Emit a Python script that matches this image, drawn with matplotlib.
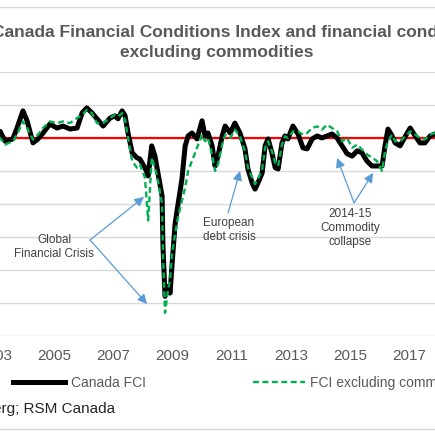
import matplotlib.pyplot as plt
from matplotlib.lines import Line2D

plt.rcParams['font.family'] = ['Liberation Sans', 'DejaVu Sans']

# dates as decimal years
dates = [2003.0, 2003.18, 2003.35, 2003.61, 2003.75, 2003.95, 2004.09, 2004.29, 2004.46, 2004.63,
         2004.86, 2005.1, 2005.3, 2005.54, 2005.78, 2005.95, 2006.11, 2006.28, 2006.45, 2006.66,
         2006.89, 2007.06, 2007.16, 2007.3, 2007.4, 2007.5, 2007.64, 2007.8, 2007.9, 2008.07,
         2008.18, 2008.3, 2008.41, 2008.51, 2008.65, 2008.68, 2008.75, 2008.85, 2008.92, 2008.99,
         2009.09, 2009.19, 2009.32, 2009.43, 2009.53, 2009.66, 2009.83, 2010.0, 2010.1, 2010.2,
         2010.34, 2010.44, 2010.54, 2010.68, 2010.78, 2010.95, 2011.11, 2011.28, 2011.45, 2011.55,
         2011.69, 2011.79, 2011.89, 2012.03, 2012.13, 2012.23, 2012.36, 2012.47, 2012.57, 2012.7,
         2012.8, 2012.9, 2013.07, 2013.24, 2013.41, 2013.55, 2013.72, 2013.89, 2014.05, 2014.22,
         2014.39, 2014.56, 2014.73, 2014.9, 2015.07, 2015.24, 2015.4, 2015.57, 2015.74, 2015.91,
         2016.08, 2016.18, 2016.28, 2016.42, 2016.52, 2016.69, 2016.93, 2017.03, 2017.2, 2017.36,
         2017.53, 2017.7, 2017.87, 2018.04]

canada_fci = [0.06, 0.2, -0.1, -0.03, 0.3, 0.82, 0.52, -0.15, -0.03, 0.15,
              0.42, 0.3, 0.36, 0.27, 0.3, 0.76, 0.91, 0.76, 0.58, 0.36,
              0.6, 0.67, 0.58, 0.82, 0.67, 0.15, -0.45, -0.6, -0.64, -0.9,
              -1.15, -0.24, -0.55, -1.06, -1.76, -3.27, -4.8, -4.5, -4.7, -3.8,
              -2.6, -2.0, -1.25, -0.24, 0.06, 0.15, -0.03, 0.52, 0.06, 0.15,
              -0.24, -0.85, -0.55, 0.06, 0.36, 0.15, 0.45, 0.15, -0.33, -0.94,
              -1.36, -1.55, -1.36, -1.06, -0.24, -0.03, -0.45, -0.9, -0.94, -0.15,
              0.06, -0.03, 0.36, 0.12, -0.3, -0.33, -0.03, 0.06, 0.0, 0.06,
              0.12, 0.0, -0.24, -0.48, -0.55, -0.39, -0.45, -0.7, -0.85, -0.85,
              -0.85, -0.24, 0.27, 0.06, -0.15, -0.24, 0.15, 0.3, 0.06, -0.15,
              -0.15, 0.06, 0.12, 0.2]

fci_ex_comm = [-0.1, 0.0, -0.2, -0.1, 0.1, 0.5, 0.3, -0.05, 0.1, 0.3,
               0.5, 0.45, 0.5, 0.45, 0.6, 0.7, 0.85, 0.75, 0.45, 0.45,
               0.6, 0.7, 0.65, 0.75, 0.55, 0.0, -0.7, -0.9, -0.8, -1.2,
               -2.5, -0.6, -0.9, -1.3, -2.0, -3.5, -5.3, -4.6, -4.3, -3.5,
               -2.9, -2.4, -1.9, -1.5, -1.0, -0.7, -0.3, 0.1, -0.1, 0.0,
               -0.5, -1.0, -0.8, -0.2, 0.1, 0.0, 0.25, 0.05, -0.4, -0.9,
               -1.2, -1.4, -1.25, -0.95, -0.3, -0.1, -0.4, -0.75, -0.85, -0.2,
               0.05, 0.0, 0.2, 0.2, 0.1, 0.15, 0.3, 0.35, 0.25, 0.4,
               0.3, 0.2, -0.1, 0.0, -0.3, -0.2, -0.35, -0.5, -0.6, -0.7,
               -1.0, -0.4, -0.1, 0.1, -0.1, -0.1, 0.1, 0.2, 0.1, 0.0,
               -0.05, 0.1, 0.15, 0.2]

year_ticks = [2001, 2003, 2005, 2007, 2009, 2011, 2013, 2015, 2017, 2019]

W = 435
fig = plt.figure(figsize=(4.351, 4.351), dpi=100)
# plot area is wider than the visible crop
ax = fig.add_axes([-87 / W, (W - 336) / W, 609 / W, 264 / W])
ax.set_xlim(2005 + (-87 - 54) / 29.6, 2005 + (522 - 54) / 29.6)
ax.set_ylim(-6, 2)
ax.set_yticks(range(-6, 3))
ax.set_yticklabels([])
ax.set_xticks(year_ticks)
ax.set_xticklabels([str(y) for y in year_ticks])
ax.grid(axis='y', color='#D9D9D9', lw=1)
ax.set_axisbelow(True)
for s in ax.spines.values():
    s.set_visible(False)
ax.tick_params(length=0, labelsize=11, labelcolor='#595959', pad=9)

ax.axhline(0, color='#FF0000', lw=1.6, zorder=3)
l1, = ax.plot(dates, canada_fci, color='black', lw=3.6, zorder=4)
l2, = ax.plot(dates, fci_ex_comm, color='#00B050', lw=1.7, ls=(0, (2.5, 1.5)), zorder=5)

# chart frame lines
for py in [7, 429]:
    fig.add_artist(Line2D([0, 1], [1 - py / W, 1 - py / W], transform=fig.transFigure,
                          color='#D9D9D9', lw=1))

fig.text(-8 / W, 1 - 32 / W, 'Canada Financial Conditions Index and financial conditions',
         ha='left', va='center', fontsize=12.5, weight='bold', color='#595959')
fig.text(217 / W, 1 - 52 / W, 'excluding commodities',
         ha='center', va='center', fontsize=12.5, weight='bold', color='#595959')

fig.legend([l1, l2], ['Canada FCI', 'FCI excluding commodities'], loc='center left',
           bbox_to_anchor=(13 / W, 1 - 383 / W), ncol=2, frameon=False, fontsize=10,
           handlelength=3.75, handletextpad=0.4, columnspacing=7.7, borderpad=0,
           borderaxespad=0, labelcolor='#595959')

fig.text(115 / W, 1 - 409 / W, 'Source: Bloomberg; RSM Canada', ha='right', va='center',
         fontsize=11, color='#262626')

# annotations (figure fractions from pixel positions)
arrow = dict(arrowstyle='-|>', color='#5B9BD5', lw=0.9, mutation_scale=14, shrinkA=0, shrinkB=0)
def fp(x, y):
    return (x / W, 1 - y / W)

fig.text(54 / W, 1 - 247 / W, 'Global\nFinancial Crisis', ha='center', va='center',
         fontsize=8.5, color='#404040', linespacing=1.25)
ax.annotate('', xy=fp(144, 197), xytext=fp(90, 240), xycoords='figure fraction',
            textcoords='figure fraction', arrowprops=arrow)
ax.annotate('', xy=fp(147, 304), xytext=fp(90, 240), xycoords='figure fraction',
            textcoords='figure fraction', arrowprops=arrow)

fig.text(229 / W, 1 - 230 / W, 'European\ndebt crisis', ha='center', va='center',
         fontsize=8.5, color='#404040', linespacing=1.25)
ax.annotate('', xy=fp(240, 171), xytext=fp(228, 213), xycoords='figure fraction',
            textcoords='figure fraction', arrowprops=arrow)

fig.text(350 / W, 1 - 228 / W, '2014-15\nCommodity\ncollapse', ha='center', va='center',
         fontsize=8.5, color='#404040', linespacing=1.25)
ax.annotate('', xy=fp(337, 158), xytext=fp(354, 203), xycoords='figure fraction',
            textcoords='figure fraction', arrowprops=arrow)
ax.annotate('', xy=fp(373, 173), xytext=fp(354, 203), xycoords='figure fraction',
            textcoords='figure fraction', arrowprops=arrow)

fig.savefig('out.png', dpi=100, facecolor='white')
